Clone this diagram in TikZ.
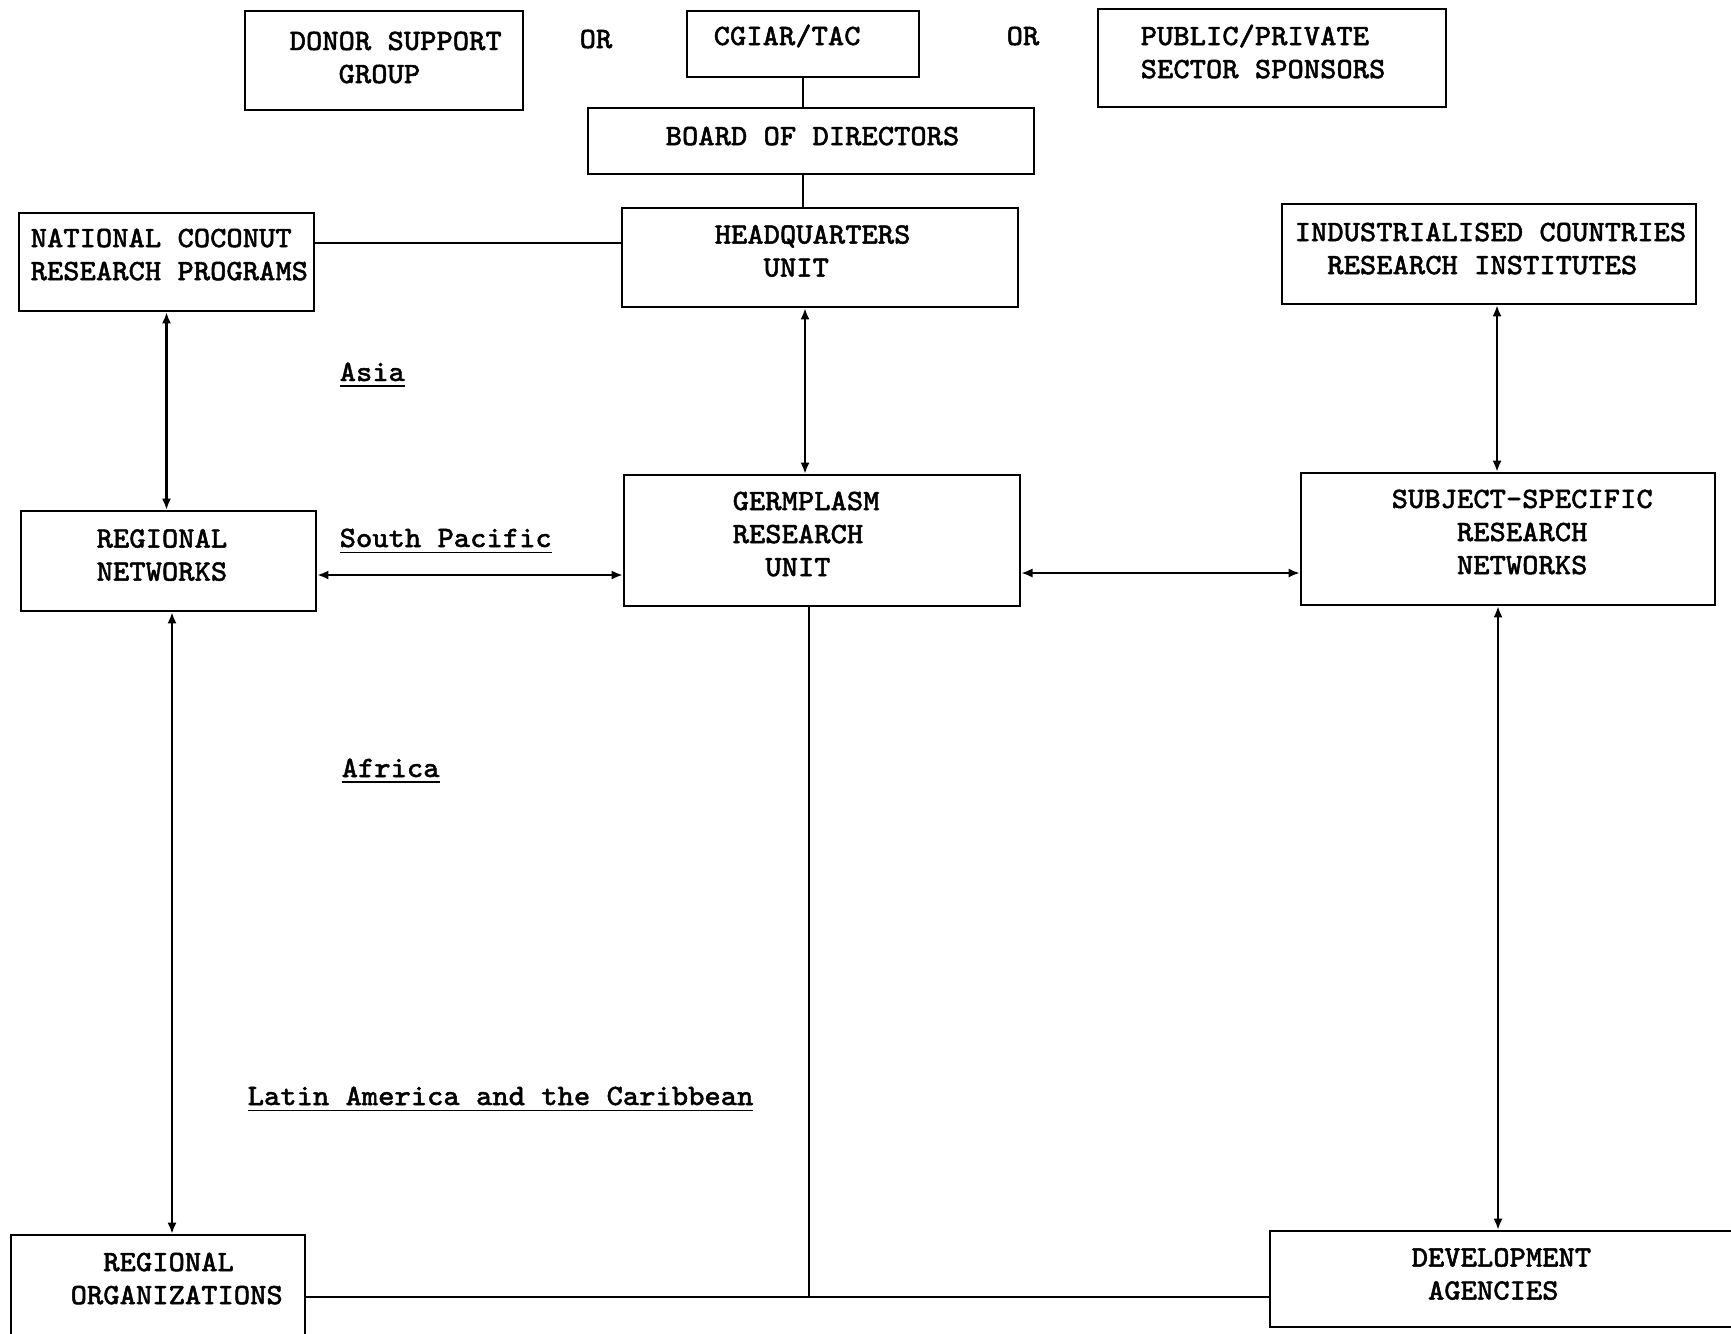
\documentclass[tikz,border=0pt]{standalone}
\usepackage{fontspec}
\newfontfamily\typer[FakeStretch=1.04,FakeBold=1.6]{Latin Modern Mono}
\usetikzlibrary{arrows.meta,fit}
\tikzset{
  box/.style={draw, line width=0.7pt, inner sep=0pt},
  txt/.style={inner sep=0pt, align=left, font=\typer\fontsize{8.4pt}{9.4pt}\selectfont},
  lbl/.style={inner sep=0pt, anchor=base west, font=\typer\fontsize{8.4pt}{9.4pt}\selectfont},
  link/.style={line width=0.6pt},
  both/.style={link, {Latex[length=3.2pt,width=2.6pt]}-{Latex[length=3.2pt,width=2.6pt]}},
}
\begin{document}
\begin{tikzpicture}[x=0.01cm,y=-0.01cm]
\useasboundingbox (0,0) rectangle (1731,1333);
\fill[white] (0,0) rectangle (1731,1333);
\clip (0,0) rectangle (1731,1333);

% boxes
\node[box, fit={(245,11) (523,110)}] (donor) {};
\node[box, fit={(687,11) (919,77)}] (cgiar) {};
\node[box, fit={(1098,9) (1446,107)}] (sponsor) {};
\node[box, fit={(588,108) (1034,174)}] (board) {};
\node[box, fit={(622,208) (1018,307)}] (hq) {};
\node[box, fit={(19,213) (314,311)}] (ncrp) {};
\node[box, fit={(1282,204) (1696,304)}] (icri) {};
\node[box, fit={(624,475) (1020,606)}] (gru) {};
\node[box, fit={(1301,473) (1715,605)}] (ssrn) {};
\node[box, fit={(21,511) (316,611)}] (rn) {};
\node[box, fit={(11,1235) (305,1345)}] (ro) {};
\node[box, fit={(1270,1231) (1745,1327)}] (da) {};

% texts
\node[txt, anchor=west] (donor-t) at (289,57.5) {DONOR SUPPORT\\\phantom{000}GROUP};
\node[txt] (or1) at (596,39) {OR};
\node[txt, anchor=west] (cgiar-t) at (713,36) {CGIAR/TAC};
\node[txt] (or2) at (1023,36) {OR};
\node[txt, anchor=west] (sponsor-t) at (1140,51.5) {PUBLIC/PRIVATE\\SECTOR SPONSORS};
\node[txt, anchor=west] (board-t) at (665,136) {BOARD OF DIRECTORS};
\node[txt, anchor=west] (hq-t) at (714,251) {HEADQUARTERS\\\phantom{000}UNIT};
\node[txt, anchor=west] (ncrp-t) at (30,254.5) {NATIONAL COCONUT\\RESEARCH PROGRAMS};
\node[txt, anchor=west] (icri-t) at (1294,248.5) {INDUSTRIALISED COUNTRIES\\\phantom{00}RESEARCH INSTITUTES};
\node[txt, anchor=west] (gru-t) at (732,534) {GERMPLASM\\RESEARCH\\\phantom{00}UNIT};
\node[txt, anchor=west] (ssrn-t) at (1391,532) {SUBJECT-SPECIFIC\\\phantom{0000}RESEARCH\\\phantom{0000}NETWORKS};
\node[txt, anchor=west] (rn-t) at (96,555) {REGIONAL\\NETWORKS};
\node[txt, anchor=west] (ro-t) at (70,1278.5) {\phantom{00}REGIONAL\\ORGANIZATIONS};
\node[txt, anchor=west] (da-t) at (1411,1274) {DEVELOPMENT\\\phantom{0}AGENCIES};

% region labels
\node[lbl] (asia) at (339,381) {\underline{Asia}};
\node[lbl] (spac) at (339,547) {\underline{South Pacific}};
\node[lbl] (africa) at (341,777) {\underline{Africa}};
\node[lbl] (latam) at (247,1105) {\underline{Latin America and the Caribbean}};

% guide coordinates
\coordinate (xa) at (805,0);
\coordinate (xb) at (1497,0);
\coordinate (xc) at (172,0);
\coordinate (xd) at (1498,0);
\coordinate (ya) at (0,243);
\coordinate (yb) at (0,575);
\coordinate (yc) at (0,573);
\coordinate (j) at (809,1297);

% connectors
\draw[link] (cgiar.south) -- (cgiar.south |- board.north);
\draw[link] (cgiar.south |- board.south) -- (cgiar.south |- hq.north);
\draw[link] (ncrp.east |- ya) -- (hq.west |- ya);
\draw[both] (ncrp.south) -- (ncrp.south |- rn.north);
\draw[both] (hq.south -| xa) -- (gru.north -| xa);
\draw[both] (icri.south -| xb) -- (ssrn.north -| xb);
\draw[both] (rn.east |- yb) -- (gru.west |- yb);
\draw[both] (gru.east |- yc) -- (ssrn.west |- yc);
\draw[both] (rn.south -| xc) -- (ro.north -| xc);
\draw[both] (ssrn.south -| xd) -- (da.north -| xd);
\draw[link] (gru.south -| j) -- (j);
\draw[link] (ro.east |- j) -- (da.west |- j);
\end{tikzpicture}
\end{document}
